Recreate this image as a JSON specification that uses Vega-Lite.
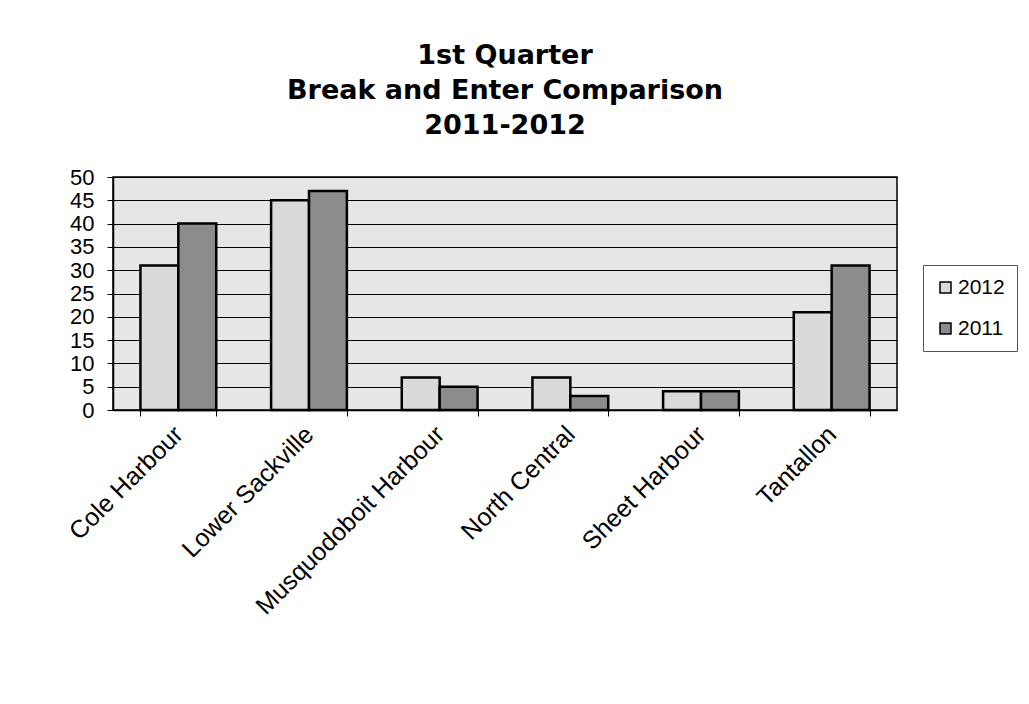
{
  "$schema": "https://vega.github.io/schema/vega-lite/v6.json",
  "autosize": {"type": "none"},
  "width": 784,
  "height": 233,
  "padding": {"left": 113, "top": 177, "right": 132, "bottom": 294},
  "background": "white",
  "title": {
    "text": ["1st Quarter", "Break and Enter Comparison", "2011-2012"],
    "font": "DejaVu Sans",
    "fontSize": 27,
    "fontWeight": "bold",
    "lineHeight": 35,
    "offset": 26,
    "anchor": "middle",
    "color": "black"
  },
  "config": {
    "view": {"fill": "#e6e6e6", "stroke": "black", "strokeWidth": 1.5}
  },
  "data": {
    "values": [
      {"area": "Cole Harbour", "year": "2012", "count": 31},
      {"area": "Cole Harbour", "year": "2011", "count": 40},
      {"area": "Lower Sackville", "year": "2012", "count": 45},
      {"area": "Lower Sackville", "year": "2011", "count": 47},
      {"area": "Musquodoboit Harbour", "year": "2012", "count": 7},
      {"area": "Musquodoboit Harbour", "year": "2011", "count": 5},
      {"area": "North Central", "year": "2012", "count": 7},
      {"area": "North Central", "year": "2011", "count": 3},
      {"area": "Sheet Harbour", "year": "2012", "count": 4},
      {"area": "Sheet Harbour", "year": "2011", "count": 4},
      {"area": "Tantallon", "year": "2012", "count": 21},
      {"area": "Tantallon", "year": "2011", "count": 31}
    ]
  },
  "mark": {"type": "bar", "stroke": "black", "strokeWidth": 2.5},
  "encoding": {
    "x": {
      "field": "area",
      "type": "nominal",
      "sort": null,
      "scale": {"paddingInner": 0.42, "paddingOuter": 0.21},
      "axis": {
        "title": null,
        "labelAngle": -45,
        "labelAlign": "right",
        "labelBaseline": "middle",
        "labelFont": "Liberation Sans",
        "labelFontSize": 25,
        "labelColor": "black",
        "labelPadding": 14,
        "labelLimit": 400,
        "labelOverlap": false,
        "tickBand": "extent",
        "tickSize": 6,
        "tickColor": "black",
        "domainColor": "black",
        "domainWidth": 1.5
      }
    },
    "y": {
      "field": "count",
      "type": "quantitative",
      "scale": {"domain": [0, 50], "nice": false},
      "axis": {
        "title": null,
        "values": [0, 5, 10, 15, 20, 25, 30, 35, 40, 45, 50],
        "labelFont": "Liberation Sans",
        "labelFontSize": 22,
        "labelColor": "black",
        "labelPadding": 13,
        "labelOverlap": false,
        "labelBound": false,
        "labelFlush": false,
        "tickSize": 6,
        "tickColor": "black",
        "domainColor": "black",
        "domainWidth": 1.5,
        "gridColor": "black",
        "gridOpacity": 1,
        "gridWidth": 1.2
      }
    },
    "xOffset": {"field": "year", "type": "nominal", "sort": ["2012", "2011"]},
    "fill": {
      "field": "year",
      "type": "nominal",
      "sort": ["2012", "2011"],
      "scale": {"range": ["#dadada", "#8c8c8c"]},
      "legend": {
        "title": null,
        "orient": "none",
        "legendX": 810,
        "legendY": 88,
        "padding": 12,
        "strokeColor": "#555555",
        "fillColor": "white",
        "symbolType": "square",
        "symbolSize": 121,
        "symbolStrokeColor": "black",
        "symbolStrokeWidth": 1.5,
        "labelFont": "Liberation Sans",
        "labelFontSize": 21,
        "labelColor": "black",
        "labelOffset": 2,
        "rowPadding": 19
      }
    }
  }
}
